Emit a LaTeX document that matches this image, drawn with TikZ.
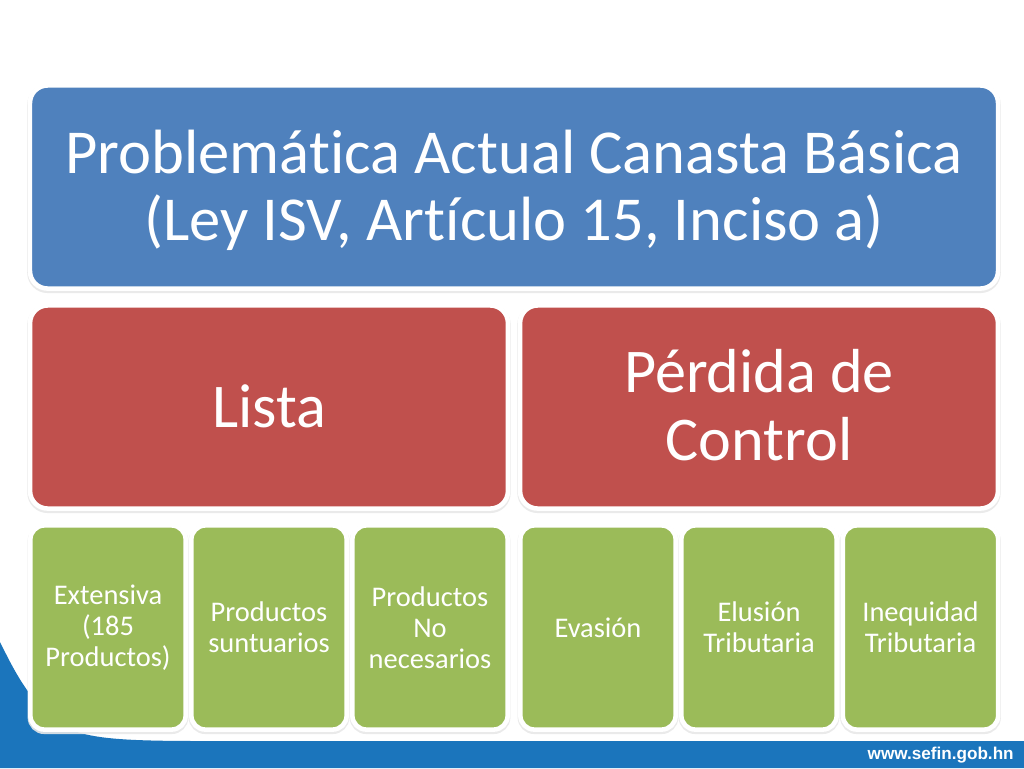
\documentclass[tikz,border=0pt]{standalone}
\usepackage{fontspec}
\setmainfont{Carlito}[Ligatures=NoCommon]
\newfontfamily\webfont{Liberation Sans}
\usetikzlibrary{shadows}
\definecolor{titleblue}{HTML}{4F81BD}
\definecolor{midred}{HTML}{C0504D}
\definecolor{leafgreen}{HTML}{9BBB59}
\definecolor{bandblue}{HTML}{1B75BC}
\definecolor{rimgray}{HTML}{B4B4B4}
\tikzset{
	cardbox/.style={rectangle, draw=white, line width=2.6pt, text=white, align=center, inner sep=0pt,
		drop shadow={shadow xshift=0pt, shadow yshift=-1pt, fill=rimgray, draw=rimgray!30, line width=3.1pt, opacity=0.9}},
	titlecard/.style={cardbox, fill=titleblue, rounded corners=10pt, minimum width=551pt, minimum height=115.6pt,
		font=\fontsize{35.6}{38.5}\selectfont},
	midcard/.style={cardbox, fill=midred, rounded corners=10pt, minimum width=272pt, minimum height=115.6pt,
		font=\fontsize{35.4}{38.5}\selectfont},
	leafcard/.style={cardbox, fill=leafgreen, rounded corners=8pt, minimum width=88.4pt, minimum height=116.2pt,
		text width=85pt, font=\fontsize{16.2}{17.6}\selectfont},
}
\begin{document}
\begin{tikzpicture}[x=0.02cm, y=-0.02cm]
	\useasboundingbox (0,0) rectangle (1024,768);
	\fill[white] (0,0) rectangle (1024,768);
	% footer band and swoosh
	\fill[bandblue] (0,768) -- (0,642) .. controls (15,672) and (35,715) .. (77,732) .. controls (100,739) and (130,741) .. (200,741) -- (1024,741) -- (1024,768) -- cycle;
	\node[text=white, inner sep=0pt, font=\webfont\bfseries\fontsize{9.75}{12}\selectfont, anchor=east] (web) at (1014,755) {www.sefin.gob.hn};
	% top row
	\node[titlecard] (problema) at (514,187) {\rule{0pt}{28.5pt}Problemática Actual Canasta Básica\\(Ley ISV, Artículo 15, Inciso a)};
	% middle row
	\node[midcard] (lista) at (269,407) {Lista\rule[-1.1pt]{0pt}{0pt}};
	\node[midcard] (perdida) at (759,407) {Pérdida de\\Control\rule[-2.6pt]{0pt}{0pt}};
	% bottom row
	\node[leafcard] (extensiva) at (108,627.5) {Extensiva\\(185\\Productos)};
	\node[leafcard] (suntuarios) at (269,627.5) {Productos\\suntuarios};
	\node[leafcard] (necesarios) at (430,627.5) {Productos\\No\\necesarios};
	\node[leafcard] (evasion) at (598,627.5) {Evasión};
	\node[leafcard] (elusion) at (759,627.5) {Elusión\\Tributaria};
	\node[leafcard] (inequidad) at (920.5,627.5) {Inequidad\\Tributaria};
\end{tikzpicture}
\end{document}
